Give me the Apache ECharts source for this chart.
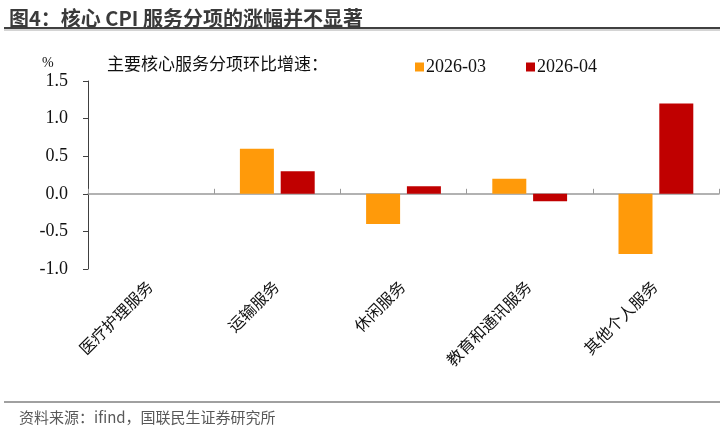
<!DOCTYPE html>
<html><head><meta charset="utf-8">
<script src="https://cdn.jsdelivr.net/npm/echarts@6/dist/echarts.min.js"></script>
<style>html,body{margin:0;padding:0;background:#fff}#c{width:725px;height:430px}</style>
</head><body><div id="c"></div>
<script>
const categories = ['医疗护理服务','运输服务','休闲服务','教育和通讯服务','其他个人服务'];
const seriesNames = ['2026-03','2026-04'];
const mar = [0, 0.6, -0.4, 0.2, -0.8];
const apr = [0, 0.3, 0.1, -0.1, 1.2];
const yTicks = {min: -1.0, max: 1.5, interval: 0.5};

const serif = '"Liberation Serif","Times New Roman","Noto Sans CJK SC",serif';
const chart = echarts.init(document.getElementById('c'));
chart.setOption({
  animation: false,
  backgroundColor: '#fff',
  title: [
    {text: '图4：核心 CPI 服务分项的涨幅并不显著', left: 4, top: 3,
     textStyle: {fontSize: 20, fontWeight: 'bold', color: '#3a3a3a', fontFamily: '"Noto Sans CJK SC",sans-serif'}},
    {text: '资料来源：ifind，国联民生证券研究所', left: 14, top: 405,
     textStyle: {fontSize: 15, fontWeight: 'normal', color: '#595959', fontFamily: '"Noto Sans CJK SC",sans-serif'}},
    {text: '主要核心服务分项环比增速：', left: 102, top: 50,
     textStyle: {fontSize: 17, fontWeight: 'normal', color: '#111', fontFamily: '"Noto Sans CJK SC",sans-serif'}},
    {text: '%', left: 37, top: 51,
     textStyle: {fontSize: 14, fontWeight: 'normal', color: '#111', fontFamily: serif}}
  ],
  graphic: [
    {type: 'line', shape: {x1: 4, y1: 28, x2: 720, y2: 28}, style: {stroke: '#404040', lineWidth: 2}},
    {type: 'line', shape: {x1: 4, y1: 30, x2: 720, y2: 30}, style: {stroke: '#aaaaaa', lineWidth: 1}},
    {type: 'line', shape: {x1: 4, y1: 402, x2: 720, y2: 402}, style: {stroke: '#808080', lineWidth: 1.5}}
  ],
  legend: {
    left: 410, top: 53, itemWidth: 9, itemHeight: 9, itemGap: 40, icon: 'rect',
    textStyle: {fontSize: 18, color: '#111', fontFamily: serif, padding: [0, 0, 0, -3]},
    data: seriesNames
  },
  grid: {left: 88, right: 6, top: 81, bottom: 161, containLabel: false},
  xAxis: [
    {type: 'category', data: categories, position: 'bottom',
     axisLine: {onZero: true, lineStyle: {color: '#999', width: 1.5}},
     axisTick: {show: true, inside: true, length: 5, lineStyle: {color: '#999'}},
     axisLabel: {show: false}},
    {type: 'category', data: categories, position: 'bottom',
     axisLine: {show: false, onZero: false}, axisTick: {show: false},
     axisLabel: {rotate: 45, margin: 16, fontSize: 16, color: '#111', fontFamily: serif, interval: 0}}
  ],
  yAxis: {
    type: 'value', min: yTicks.min, max: yTicks.max, interval: yTicks.interval,
    splitLine: {show: false},
    axisLine: {show: true, lineStyle: {color: '#404040'}},
    axisTick: {show: true, length: 5, lineStyle: {color: '#404040'}},
    axisLabel: {fontSize: 18, color: '#111', fontFamily: serif, margin: 20,
      formatter: v => v.toFixed(1)}
  },
  series: [
    {name: seriesNames[0], type: 'bar', data: mar, xAxisIndex: 0, barWidth: 34, barGap: '20%',
     itemStyle: {color: '#FF9A0A'}},
    {name: seriesNames[1], type: 'bar', data: apr, xAxisIndex: 0, barWidth: 34,
     itemStyle: {color: '#C00000'}}
  ]
});
</script></body></html>
